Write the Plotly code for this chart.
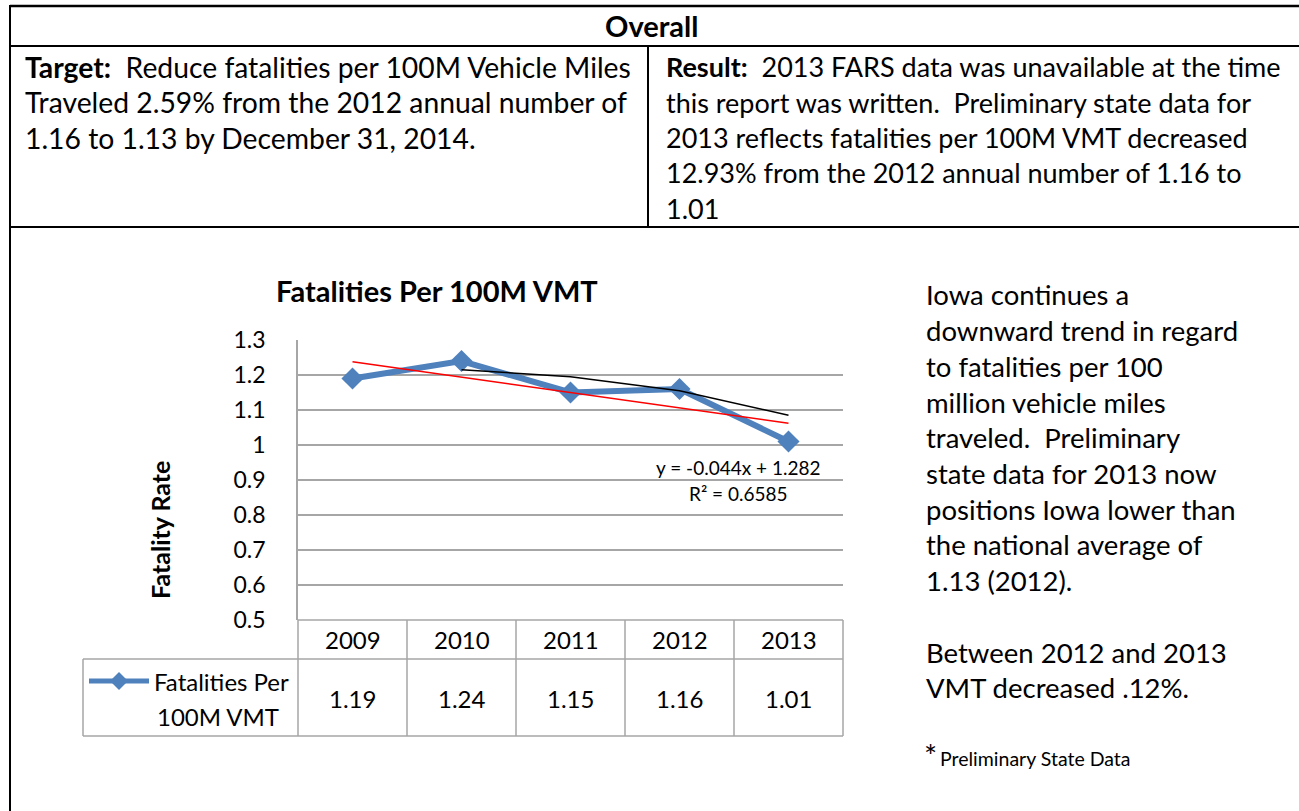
import numpy as np
import plotly.graph_objects as go

# ---------------- data ----------------
years = ["2009", "2010", "2011", "2012", "2013"]
rates = [1.19, 1.24, 1.15, 1.16, 1.01]
rate_labels = ["1.19", "1.24", "1.15", "1.16", "1.01"]
series_name = "Fatalities Per 100M VMT"
y_tick_vals = [0.5, 0.6, 0.7, 0.8, 0.9, 1.0, 1.1, 1.2, 1.3]
y_tick_text = ["0.5", "0.6", "0.7", "0.8", "0.9", "1", "1.1", "1.2", "1.3"]
equation_text = "y = -0.044x + 1.282"
r2_text = "R² = 0.6585"

header_text = "Overall"
target_lines = ["<b>Target:</b>\u00a0 Reduce fatalities per 100M Vehicle Miles",
                "Traveled 2.59% from the 2012 annual number of",
                "1.16 to 1.13 by December 31, 2014."]
result_lines = ["<b>Result:</b>\u00a0 2013 FARS data was unavailable at the time",
                "this report was written.\u00a0 Preliminary state data for",
                "2013 reflects fatalities per 100M VMT decreased",
                "12.93% from the 2012 annual number of 1.16 to",
                "1.01"]
side_lines = ["Iowa continues a", "downward trend in regard", "to fatalities per 100",
              "million vehicle miles", "traveled.\u00a0 Preliminary", "state data for 2013 now",
              "positions Iowa lower than", "the national average of", "1.13 (2012).",
              "", "Between 2012 and 2013", "VMT decreased .12%."]
footnote = "Preliminary State Data"

# trendlines derived from the data (as Excel does)
xs = np.arange(1, len(rates) + 1)
slope, intercept = np.polyfit(xs, rates, 1)
linear_trend = list(slope * xs + intercept)
moving_avg = [None] + [(rates[i - 1] + rates[i]) / 2 for i in range(1, len(rates))]

# ---------------- layout helpers ----------------
W, H = 1299, 811
def px(x):
    return x / W
def py(y):
    return 1 - y / H

FONT = "Lato"
BLUE = "#4f81bd"
GRID = "#a6a6a6"

fig = go.Figure()
fig.add_trace(go.Scatter(x=years, y=rates, mode="lines+markers", name=series_name,
                         line=dict(color=BLUE, width=6),
                         marker=dict(symbol="diamond", size=17, color=BLUE),
                         showlegend=False, cliponaxis=False))
fig.add_trace(go.Scatter(x=years, y=linear_trend, mode="lines",
                         line=dict(color="#ff0000", width=1.5), showlegend=False))
fig.add_trace(go.Scatter(x=years, y=moving_avg, mode="lines",
                         line=dict(color="#000000", width=1.5), showlegend=False))

shapes = []
def line(x0, y0, x1, y1, color="black", width=2):
    shapes.append(dict(type="line", xref="paper", yref="paper",
                       x0=px(x0), y0=py(y0), x1=px(x1), y1=py(y1),
                       line=dict(color=color, width=width)))

# document table borders
line(10, 6, 1299, 6, width=2.5)
line(10, 46, 1299, 46)
line(10, 227, 1299, 227)
line(10, 5, 10, 811)
line(648, 46, 648, 227)

# chart data table
x_left, x_right = 298, 843
col_w = (x_right - x_left) / len(years)
line(x_left, 620, x_right, 620, color=GRID, width=1.5)
line(83, 659, x_right, 659, color=GRID, width=1.5)
line(83, 736, x_right, 736, color=GRID, width=1.5)
line(83, 659, 83, 736, color=GRID, width=1.5)
for i in range(len(years) + 1):
    xx = x_left + i * col_w
    line(xx, 620, xx, 736, color=GRID, width=1.5)
# legend key
line(89, 681, 149, 681, color=BLUE, width=5)
cx, cy, r = 119, 681, 9
shapes.append(dict(type="path", xref="paper", yref="paper",
                   path=f"M {px(cx - r)} {py(cy)} L {px(cx)} {py(cy - r)} L {px(cx + r)} {py(cy)} L {px(cx)} {py(cy + r)} Z",
                   fillcolor=BLUE, line=dict(color=BLUE, width=0)))

ann = []
def text(x, y, t, size=23, anchor="left", bold=False, color="#000", angle=0):
    ann.append(dict(x=px(x), y=py(y), xref="paper", yref="paper", text=(f"<b>{t}</b>" if bold else t),
                    showarrow=False, xanchor=anchor, yanchor="middle", textangle=angle,
                    font=dict(family=FONT, size=size, color=color)))

text(652, 26, header_text, size=29, anchor="center", bold=True)
for i, t in enumerate(target_lines):
    text(23, 67 + i * 35.3, t, size=28.3)
for i, t in enumerate(result_lines):
    text(664, 67 + i * 35.3, t, size=27)
for i, t in enumerate(side_lines):
    if t:
        text(924, 295 + i * 35.7, t, size=27.5)
text(922, 755, "*", size=31)
text(938, 758, footnote, size=19.5)

text(437, 290, series_name, size=29, anchor="center", bold=True)
text(160, 530, "Fatality Rate", size=25, anchor="center", bold=True, angle=-90)
text(738, 467, equation_text, size=19, anchor="center")
text(738, 493, r2_text, size=19, anchor="center")

# data table text
for i, (yr, lab) in enumerate(zip(years, rate_labels)):
    xc = x_left + (i + 0.5) * col_w
    text(xc, 639, yr, size=24, anchor="center")
    text(xc, 698, lab, size=24, anchor="center")
text(291, 681, "Fatalities Per", size=24, anchor="right")
text(281, 716, "100M VMT", size=24, anchor="right")

fig.update_layout(
    template="none",
    width=W, height=H, autosize=False,
    margin=dict(l=0, r=0, t=0, b=0, pad=0, autoexpand=False),
    paper_bgcolor="white", plot_bgcolor="white",
    shapes=shapes, annotations=ann, showlegend=False,
    xaxis=dict(domain=[px(x_left), px(x_right)], type="category", range=[-0.5, 4.5], automargin=False,
               showticklabels=False, showgrid=False, zeroline=False, showline=False, ticks=""),
    yaxis=dict(domain=[py(620), py(340)], range=[0.5, 1.3], tickvals=y_tick_vals, ticktext=y_tick_text,
               automargin=False,
               showgrid=True, gridcolor=GRID, gridwidth=1.5, zeroline=False,
               showline=True, linecolor=GRID, linewidth=1.5, ticks="",
               ticklabelstandoff=26, tickfont=dict(family=FONT, size=23, color="#000")),
)

fig.write_html("out.html", config={"displayModeBar": False, "responsive": False},
               post_script="document.body.style.margin='0';document.body.style.overflow='hidden';")
